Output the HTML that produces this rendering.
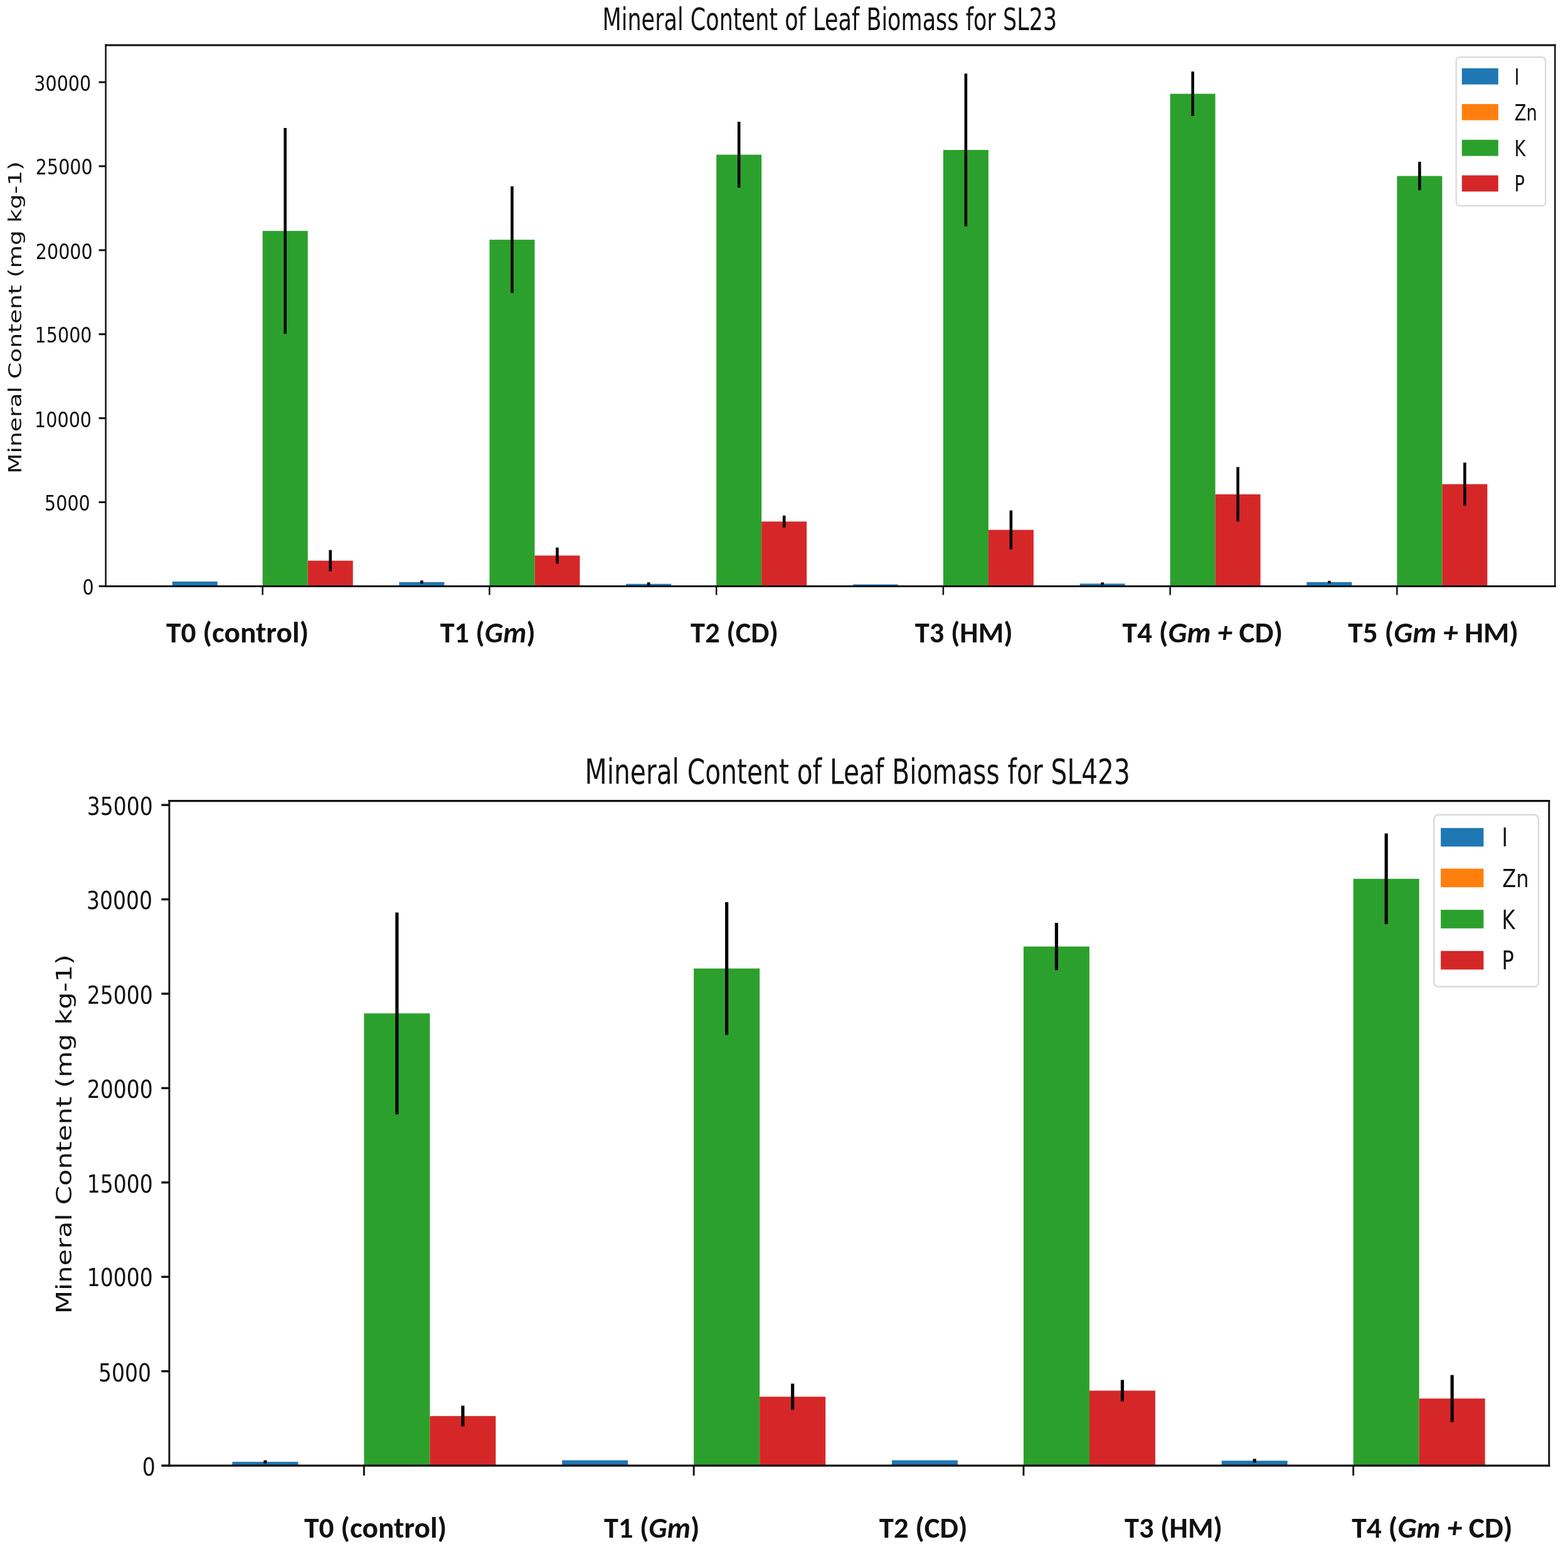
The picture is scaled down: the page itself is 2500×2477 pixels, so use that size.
<!DOCTYPE html>
<html><head><meta charset="utf-8"><title>Mineral Content of Leaf Biomass</title>
<style>html,body{margin:0;padding:0;background:#fff;}svg{display:block}</style></head>
<body>
<svg width="2500" height="2477" viewBox="0 0 2500 2477">
<rect x="0" y="0" width="2500" height="2477" fill="#fff"/>
<rect x="274.70" y="926.90" width="72.00" height="7.50" fill="#1f77b4" />
<rect x="418.70" y="368.10" width="72.00" height="566.30" fill="#2ca02c" />
<rect x="490.70" y="893.70" width="72.00" height="40.70" fill="#d62728" />
<rect x="636.44" y="927.80" width="72.00" height="6.60" fill="#1f77b4" />
<rect x="780.44" y="382.10" width="72.00" height="552.30" fill="#2ca02c" />
<rect x="852.44" y="885.50" width="72.00" height="48.90" fill="#d62728" />
<rect x="998.18" y="930.70" width="72.00" height="3.70" fill="#1f77b4" />
<rect x="1142.18" y="246.60" width="72.00" height="687.80" fill="#2ca02c" />
<rect x="1214.18" y="831.30" width="72.00" height="103.10" fill="#d62728" />
<rect x="1359.92" y="931.50" width="72.00" height="2.90" fill="#1f77b4" />
<rect x="1503.92" y="239.00" width="72.00" height="695.40" fill="#2ca02c" />
<rect x="1575.92" y="844.60" width="72.00" height="89.80" fill="#d62728" />
<rect x="1721.66" y="930.30" width="72.00" height="4.10" fill="#1f77b4" />
<rect x="1865.66" y="149.50" width="72.00" height="784.90" fill="#2ca02c" />
<rect x="1937.66" y="787.90" width="72.00" height="146.50" fill="#d62728" />
<rect x="2083.40" y="927.80" width="72.00" height="6.60" fill="#1f77b4" />
<rect x="2227.40" y="280.50" width="72.00" height="653.90" fill="#2ca02c" />
<rect x="2299.40" y="771.70" width="72.00" height="162.70" fill="#d62728" />
<line x1="454.70" y1="204.10" x2="454.70" y2="532.10" stroke="#050505" stroke-width="4.6"/>
<line x1="526.70" y1="876.70" x2="526.70" y2="910.70" stroke="#050505" stroke-width="4.6"/>
<line x1="816.44" y1="297.10" x2="816.44" y2="467.10" stroke="#050505" stroke-width="4.6"/>
<line x1="888.44" y1="872.70" x2="888.44" y2="898.30" stroke="#050505" stroke-width="4.6"/>
<line x1="672.44" y1="925.30" x2="672.44" y2="930.30" stroke="#050505" stroke-width="4.6"/>
<line x1="1178.18" y1="194.10" x2="1178.18" y2="299.10" stroke="#050505" stroke-width="4.6"/>
<line x1="1250.18" y1="821.80" x2="1250.18" y2="840.80" stroke="#050505" stroke-width="4.6"/>
<line x1="1034.18" y1="928.20" x2="1034.18" y2="933.20" stroke="#050505" stroke-width="4.6"/>
<line x1="1539.92" y1="117.20" x2="1539.92" y2="360.80" stroke="#050505" stroke-width="4.6"/>
<line x1="1611.92" y1="813.60" x2="1611.92" y2="875.60" stroke="#050505" stroke-width="4.6"/>
<line x1="1901.66" y1="114.00" x2="1901.66" y2="185.00" stroke="#050505" stroke-width="4.6"/>
<line x1="1973.66" y1="744.40" x2="1973.66" y2="831.40" stroke="#050505" stroke-width="4.6"/>
<line x1="1757.66" y1="928.30" x2="1757.66" y2="932.30" stroke="#050505" stroke-width="4.6"/>
<line x1="2263.40" y1="257.80" x2="2263.40" y2="303.20" stroke="#050505" stroke-width="4.6"/>
<line x1="2335.40" y1="737.40" x2="2335.40" y2="806.00" stroke="#050505" stroke-width="4.6"/>
<line x1="2119.40" y1="925.80" x2="2119.40" y2="929.80" stroke="#050505" stroke-width="4.6"/>
<line x1="418.70" y1="934.40" x2="418.70" y2="948.40" stroke="#111" stroke-width="2.5"/>
<line x1="780.44" y1="934.40" x2="780.44" y2="948.40" stroke="#111" stroke-width="2.5"/>
<line x1="1142.18" y1="934.40" x2="1142.18" y2="948.40" stroke="#111" stroke-width="2.5"/>
<line x1="1503.92" y1="934.40" x2="1503.92" y2="948.40" stroke="#111" stroke-width="2.5"/>
<line x1="1865.66" y1="934.40" x2="1865.66" y2="948.40" stroke="#111" stroke-width="2.5"/>
<line x1="2227.40" y1="934.40" x2="2227.40" y2="948.40" stroke="#111" stroke-width="2.5"/>
<line x1="157.60" y1="934.40" x2="168.60" y2="934.40" stroke="#111" stroke-width="3.0"/>
<line x1="157.60" y1="800.50" x2="168.60" y2="800.50" stroke="#111" stroke-width="3.0"/>
<line x1="157.60" y1="666.60" x2="168.60" y2="666.60" stroke="#111" stroke-width="3.0"/>
<line x1="157.60" y1="532.70" x2="168.60" y2="532.70" stroke="#111" stroke-width="3.0"/>
<line x1="157.60" y1="398.80" x2="168.60" y2="398.80" stroke="#111" stroke-width="3.0"/>
<line x1="157.60" y1="264.90" x2="168.60" y2="264.90" stroke="#111" stroke-width="3.0"/>
<line x1="157.60" y1="131.00" x2="168.60" y2="131.00" stroke="#111" stroke-width="3.0"/>
<line x1="168.60" y1="70.50" x2="168.60" y2="935.90" stroke="#111" stroke-width="2.5"/>
<line x1="2479.30" y1="70.50" x2="2479.30" y2="935.90" stroke="#111" stroke-width="2.5"/>
<line x1="167.35" y1="72.00" x2="2480.55" y2="72.00" stroke="#111" stroke-width="3.0"/>
<line x1="167.35" y1="934.40" x2="2480.55" y2="934.40" stroke="#111" stroke-width="3.0"/>
<rect x="370.40" y="2330.10" width="105.00" height="6.00" fill="#1f77b4" />
<rect x="580.40" y="1615.30" width="105.00" height="720.80" fill="#2ca02c" />
<rect x="685.40" y="2257.10" width="105.00" height="79.00" fill="#d62728" />
<rect x="896.17" y="2327.60" width="105.00" height="8.50" fill="#1f77b4" />
<rect x="1106.17" y="1543.70" width="105.00" height="792.40" fill="#2ca02c" />
<rect x="1211.17" y="2226.30" width="105.00" height="109.80" fill="#d62728" />
<rect x="1421.94" y="2327.60" width="105.00" height="8.50" fill="#1f77b4" />
<rect x="1631.94" y="1508.70" width="105.00" height="827.40" fill="#2ca02c" />
<rect x="1736.94" y="2216.60" width="105.00" height="119.50" fill="#d62728" />
<rect x="1947.71" y="2328.30" width="105.00" height="7.80" fill="#1f77b4" />
<rect x="2157.71" y="1400.80" width="105.00" height="935.30" fill="#2ca02c" />
<rect x="2262.71" y="2229.20" width="105.00" height="106.90" fill="#d62728" />
<line x1="632.90" y1="1454.40" x2="632.90" y2="1776.20" stroke="#050505" stroke-width="5.2"/>
<line x1="737.90" y1="2240.60" x2="737.90" y2="2273.60" stroke="#050505" stroke-width="5.2"/>
<line x1="422.90" y1="2327.60" x2="422.90" y2="2332.60" stroke="#050505" stroke-width="5.2"/>
<line x1="1158.67" y1="1437.90" x2="1158.67" y2="1649.50" stroke="#050505" stroke-width="5.2"/>
<line x1="1263.67" y1="2205.50" x2="1263.67" y2="2247.10" stroke="#050505" stroke-width="5.2"/>
<line x1="1684.44" y1="1471.00" x2="1684.44" y2="1546.40" stroke="#050505" stroke-width="5.2"/>
<line x1="1789.44" y1="2199.50" x2="1789.44" y2="2233.70" stroke="#050505" stroke-width="5.2"/>
<line x1="2210.21" y1="1328.60" x2="2210.21" y2="1473.00" stroke="#050505" stroke-width="5.2"/>
<line x1="2315.21" y1="2191.70" x2="2315.21" y2="2266.70" stroke="#050505" stroke-width="5.2"/>
<line x1="2000.21" y1="2325.30" x2="2000.21" y2="2331.30" stroke="#050505" stroke-width="5.2"/>
<line x1="580.40" y1="2336.10" x2="580.40" y2="2352.10" stroke="#111" stroke-width="2.9"/>
<line x1="1106.17" y1="2336.10" x2="1106.17" y2="2352.10" stroke="#111" stroke-width="2.9"/>
<line x1="1631.94" y1="2336.10" x2="1631.94" y2="2352.10" stroke="#111" stroke-width="2.9"/>
<line x1="2157.71" y1="2336.10" x2="2157.71" y2="2352.10" stroke="#111" stroke-width="2.9"/>
<line x1="257.30" y1="2336.10" x2="269.90" y2="2336.10" stroke="#111" stroke-width="3.4"/>
<line x1="257.30" y1="2185.67" x2="269.90" y2="2185.67" stroke="#111" stroke-width="3.4"/>
<line x1="257.30" y1="2035.24" x2="269.90" y2="2035.24" stroke="#111" stroke-width="3.4"/>
<line x1="257.30" y1="1884.81" x2="269.90" y2="1884.81" stroke="#111" stroke-width="3.4"/>
<line x1="257.30" y1="1734.38" x2="269.90" y2="1734.38" stroke="#111" stroke-width="3.4"/>
<line x1="257.30" y1="1583.95" x2="269.90" y2="1583.95" stroke="#111" stroke-width="3.4"/>
<line x1="257.30" y1="1433.52" x2="269.90" y2="1433.52" stroke="#111" stroke-width="3.4"/>
<line x1="257.30" y1="1283.09" x2="269.90" y2="1283.09" stroke="#111" stroke-width="3.4"/>
<line x1="269.90" y1="1274.90" x2="269.90" y2="2337.80" stroke="#111" stroke-width="2.9"/>
<line x1="2469.80" y1="1274.90" x2="2469.80" y2="2337.80" stroke="#111" stroke-width="2.9"/>
<line x1="268.45" y1="1276.60" x2="2471.25" y2="1276.60" stroke="#111" stroke-width="3.4"/>
<line x1="268.45" y1="2336.10" x2="2471.25" y2="2336.10" stroke="#111" stroke-width="3.4"/>
<rect x="2321.70" y="91.10" width="142.50" height="237.10" rx="6" ry="6" fill="#ffffff" fill-opacity="0.8" stroke="#d9d9d9" stroke-width="2.2"/>
<rect x="2330.80" y="108.80" width="58.00" height="25.80" fill="#1f77b4" />
<rect x="2330.80" y="165.80" width="58.00" height="25.80" fill="#ff7f0e" />
<rect x="2330.80" y="222.80" width="58.00" height="25.80" fill="#2ca02c" />
<rect x="2330.80" y="279.50" width="58.00" height="25.80" fill="#d62728" />
<rect x="2286.30" y="1298.80" width="166.70" height="274.00" rx="7" ry="7" fill="#ffffff" fill-opacity="0.8" stroke="#d9d9d9" stroke-width="2.4"/>
<rect x="2297.20" y="1319.80" width="68.20" height="29.60" fill="#1f77b4" />
<rect x="2297.20" y="1384.60" width="68.20" height="29.60" fill="#ff7f0e" />
<rect x="2297.20" y="1450.20" width="68.20" height="29.60" fill="#2ca02c" />
<rect x="2297.20" y="1515.80" width="68.20" height="29.60" fill="#d62728" />
<g fill="#111">
<text font-family="DejaVu Sans, sans-serif" font-size="49.156" transform="translate(960.50 48.16) scale(0.7125 1)" >Mineral Content of Leaf Biomass for SL23</text>
<text font-family="DejaVu Sans, sans-serif" font-size="54.545" transform="translate(932.52 1249.45) scale(0.7473 1)" >Mineral Content of Leaf Biomass for SL423</text>
<text font-family="DejaVu Sans, sans-serif" font-size="27.732" transform="translate(34.28 754.97) rotate(-90) scale(1.3583 1)">Mineral Content (mg kg-1)</text>
<text font-family="DejaVu Sans, sans-serif" font-size="33.093" transform="translate(114.35 2094.34) rotate(-90) scale(1.3107 1)">Mineral Content (mg kg-1)</text>
<text font-family="DejaVu Sans, sans-serif" font-size="34.474" transform="translate(131.61 948.36) scale(0.8291 1)" >0</text>
<text font-family="DejaVu Sans, sans-serif" font-size="34.474" transform="translate(71.02 813.76) scale(0.8291 1)" >5000</text>
<text font-family="DejaVu Sans, sans-serif" font-size="34.474" transform="translate(55.11 681.16) scale(0.8291 1)" >10000</text>
<text font-family="DejaVu Sans, sans-serif" font-size="34.474" transform="translate(55.61 545.76) scale(0.8291 1)" >15000</text>
<text font-family="DejaVu Sans, sans-serif" font-size="34.474" transform="translate(56.81 413.26) scale(0.8291 1)" >20000</text>
<text font-family="DejaVu Sans, sans-serif" font-size="34.474" transform="translate(56.81 278.26) scale(0.8291 1)" >25000</text>
<text font-family="DejaVu Sans, sans-serif" font-size="34.474" transform="translate(54.31 145.36) scale(0.8291 1)" >30000</text>
<text font-family="DejaVu Sans, sans-serif" font-size="39.868" transform="translate(226.71 2352.25) scale(0.8270 1)" >0</text>
<text font-family="DejaVu Sans, sans-serif" font-size="39.868" transform="translate(157.03 2201.65) scale(0.8270 1)" >5000</text>
<text font-family="DejaVu Sans, sans-serif" font-size="39.868" transform="translate(138.86 2050.45) scale(0.8270 1)" >10000</text>
<text font-family="DejaVu Sans, sans-serif" font-size="39.868" transform="translate(138.86 1900.95) scale(0.8270 1)" >15000</text>
<text font-family="DejaVu Sans, sans-serif" font-size="39.868" transform="translate(138.76 1750.05) scale(0.8270 1)" >20000</text>
<text font-family="DejaVu Sans, sans-serif" font-size="39.868" transform="translate(138.76 1599.65) scale(0.8270 1)" >25000</text>
<text font-family="DejaVu Sans, sans-serif" font-size="39.868" transform="translate(138.06 1449.15) scale(0.8270 1)" >30000</text>
<text font-family="DejaVu Sans, sans-serif" font-size="39.868" transform="translate(138.76 1299.15) scale(0.8270 1)" >35000</text>
<text font-family="DejaVu Sans, sans-serif" font-size="34.932" transform="translate(2414.56 134.50) scale(0.7836 1)" >I</text>
<text font-family="DejaVu Sans, sans-serif" font-size="34.932" transform="translate(2414.63 191.60) scale(0.7836 1)" >Zn</text>
<text font-family="DejaVu Sans, sans-serif" font-size="34.932" transform="translate(2414.56 248.60) scale(0.7836 1)" >K</text>
<text font-family="DejaVu Sans, sans-serif" font-size="34.932" transform="translate(2414.56 305.00) scale(0.7836 1)" >P</text>
<text font-family="DejaVu Sans, sans-serif" font-size="40.000" transform="translate(2394.48 1349.20) scale(0.8051 1)" >I</text>
<text font-family="DejaVu Sans, sans-serif" font-size="39.726" transform="translate(2395.19 1414.00) scale(0.8106 1)" >Zn</text>
<text font-family="DejaVu Sans, sans-serif" font-size="41.918" transform="translate(2394.48 1480.60) scale(0.7683 1)" >K</text>
<text font-family="DejaVu Sans, sans-serif" font-size="41.233" transform="translate(2394.48 1545.40) scale(0.7810 1)" >P</text>
<text font-family="Carlito, Liberation Sans, sans-serif" font-weight="bold" x="265.13" y="1024.10" font-size="46.023" textLength="227.25" lengthAdjust="spacingAndGlyphs">T0 (control)</text>
<text font-family="Carlito, Liberation Sans, sans-serif" font-weight="bold" x="701.64" y="1024.10" font-size="46.023" textLength="152.03" lengthAdjust="spacingAndGlyphs">T1 (<tspan font-style="italic">Gm</tspan>)</text>
<text font-family="Carlito, Liberation Sans, sans-serif" font-weight="bold" x="1101.14" y="1024.10" font-size="46.023" textLength="139.89" lengthAdjust="spacingAndGlyphs">T2 (CD)</text>
<text font-family="Carlito, Liberation Sans, sans-serif" font-weight="bold" x="1458.84" y="1024.10" font-size="46.023" textLength="155.97" lengthAdjust="spacingAndGlyphs">T3 (HM)</text>
<text font-family="Carlito, Liberation Sans, sans-serif" font-weight="bold" x="1789.63" y="1024.10" font-size="46.023" textLength="255.62" lengthAdjust="spacingAndGlyphs">T4 (<tspan font-style="italic">Gm +</tspan> CD)</text>
<text font-family="Carlito, Liberation Sans, sans-serif" font-weight="bold" x="2149.33" y="1024.10" font-size="46.023" textLength="271.78" lengthAdjust="spacingAndGlyphs">T5 (<tspan font-style="italic">Gm +</tspan> HM)</text>
<text font-family="Carlito, Liberation Sans, sans-serif" font-weight="bold" x="485.13" y="2450.60" font-size="46.023" textLength="227.25" lengthAdjust="spacingAndGlyphs">T0 (control)</text>
<text font-family="Carlito, Liberation Sans, sans-serif" font-weight="bold" x="963.04" y="2450.60" font-size="46.023" textLength="152.44" lengthAdjust="spacingAndGlyphs">T1 (<tspan font-style="italic">Gm</tspan>)</text>
<text font-family="Carlito, Liberation Sans, sans-serif" font-weight="bold" x="1401.83" y="2450.60" font-size="46.023" textLength="140.61" lengthAdjust="spacingAndGlyphs">T2 (CD)</text>
<text font-family="Carlito, Liberation Sans, sans-serif" font-weight="bold" x="1793.04" y="2450.60" font-size="46.023" textLength="155.97" lengthAdjust="spacingAndGlyphs">T3 (HM)</text>
<text font-family="Carlito, Liberation Sans, sans-serif" font-weight="bold" x="2155.33" y="2450.60" font-size="46.023" textLength="256.33" lengthAdjust="spacingAndGlyphs">T4 (<tspan font-style="italic">Gm +</tspan> CD)</text>
</g>
</svg>
</body></html>
